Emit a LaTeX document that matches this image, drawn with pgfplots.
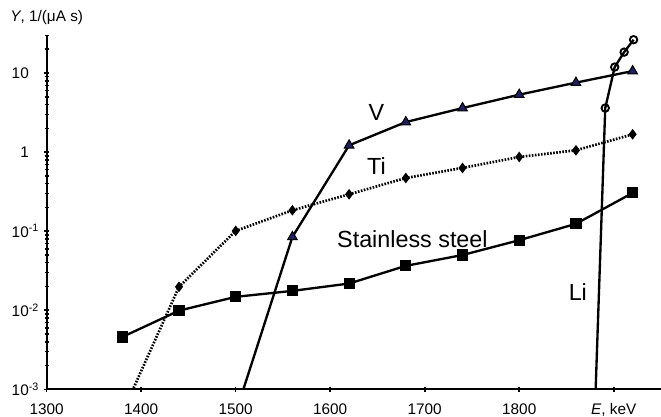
\documentclass[border=0pt]{standalone}
\usepackage{fontspec}
\setmainfont{Liberation Sans}
\usepackage{pgfplots}
\pgfplotsset{compat=1.18}

\definecolor{tri}{rgb}{0.12,0.12,0.38}

% series (E in keV, Y in 1/(uA s))
\pgfplotstableread{
E    Y
1380 0.0046
1440 0.0099
1500 0.0148
1560 0.0176
1620 0.0218
1680 0.0365
1740 0.050
1800 0.077
1860 0.124
1920 0.305
}\steel
\pgfplotstableread{
E    Y
1380 0.0005
1440 0.0198
1500 0.101
1560 0.184
1620 0.293
1680 0.471
1740 0.631
1800 0.869
1860 1.055
1920 1.68
}\ti
\pgfplotstableread{
E    Y
1500 0.0005
1560 0.0847
1620 1.22
1680 2.40
1740 3.61
1800 5.33
1860 7.57
1920 10.6
}\vdat
\pgfplotstableread{
E    Y
1880 0.0005
1891 3.61
1901 11.9
1911 18.4
1921 26.4
}\li

\begin{document}
\begin{tikzpicture}
\begin{axis}[
  name=ax,
  scale only axis,
  width=460.7pt, height=265.5pt,
  ymode=log,
  xmin=1300, xmax=1950,
  ymin=0.001, ymax=30,
  axis x line=bottom, axis y line=left,
  axis line style={-, line width=1.6pt},
  every tick/.style={black, line width=1.2pt},
  major tick length=4pt,
  xtick={1300,1400,...,1900},
  xticklabels={1300,1400,1500,1600,1700,1800,{\textit{E}, keV}},
  ytick={0.001,0.01,0.1,1,10},
  yticklabels={10\rlap{\textsuperscript{-3}},10\rlap{\textsuperscript{-2}},10\rlap{\textsuperscript{-1}},1,10},
  extra y ticks={0.002,0.003,0.004,0.005,0.006,0.007,0.008,0.009,
               0.02,0.03,0.04,0.05,0.06,0.07,0.08,0.09,
               0.2,0.3,0.4,0.5,0.6,0.7,0.8,0.9,
               2,3,4,5,6,7,8,9,20,30},
  extra y tick labels={},
  extra y tick style={major tick length=2.8pt, yticklabel style={opacity=0}},
  xticklabel style={font=\fontsize{11.5}{13}\selectfont, inner sep=0pt, anchor=north, yshift=-8.3pt},
  yticklabel style={font=\fontsize{11.5}{13}\selectfont, inner sep=0pt, anchor=east, xshift=-11.2pt},
]
\addplot[black, line width=1.75pt, mark=square*, mark size=3.3pt] table[x=E,y=Y] {\steel};
\addplot[black, line width=2pt, dash pattern=on 1.2pt off 1.1pt, mark=diamond*, mark size=3.2pt, mark options={solid, line width=1pt}] table[x=E,y=Y] {\ti};
\addplot[black, line width=1.75pt, mark=triangle*, mark size=4.1pt, mark options={fill=tri, draw=black, line width=0.8pt}] table[x=E,y=Y] {\vdat};
\addplot[black, line width=1.75pt, mark=o, mark size=2.8pt, mark options={line width=1.4pt}] table[x=E,y=Y] {\li};
\node[font=\fontsize{17.5}{20}\selectfont] at (axis cs:1649,3.21) {V};
\node[font=\fontsize{17.5}{20}\selectfont] at (axis cs:1649,0.662) {Ti};
\node[font=\fontsize{17.5}{20}\selectfont] at (axis cs:1687,0.0785) {Stainless steel};
\node[font=\fontsize{17.5}{20}\selectfont] at (axis cs:1862,0.0171) {Li};
\end{axis}
\node[font=\fontsize{11.5}{13}\selectfont] at ([yshift=13pt]ax.north west) {\textit{Y}, 1/(μA s)};
\pgfresetboundingbox
\useasboundingbox ([xshift=-35pt,yshift=-20pt]ax.south west) rectangle ([yshift=26.5pt]ax.north east);
\end{tikzpicture}
\end{document}
